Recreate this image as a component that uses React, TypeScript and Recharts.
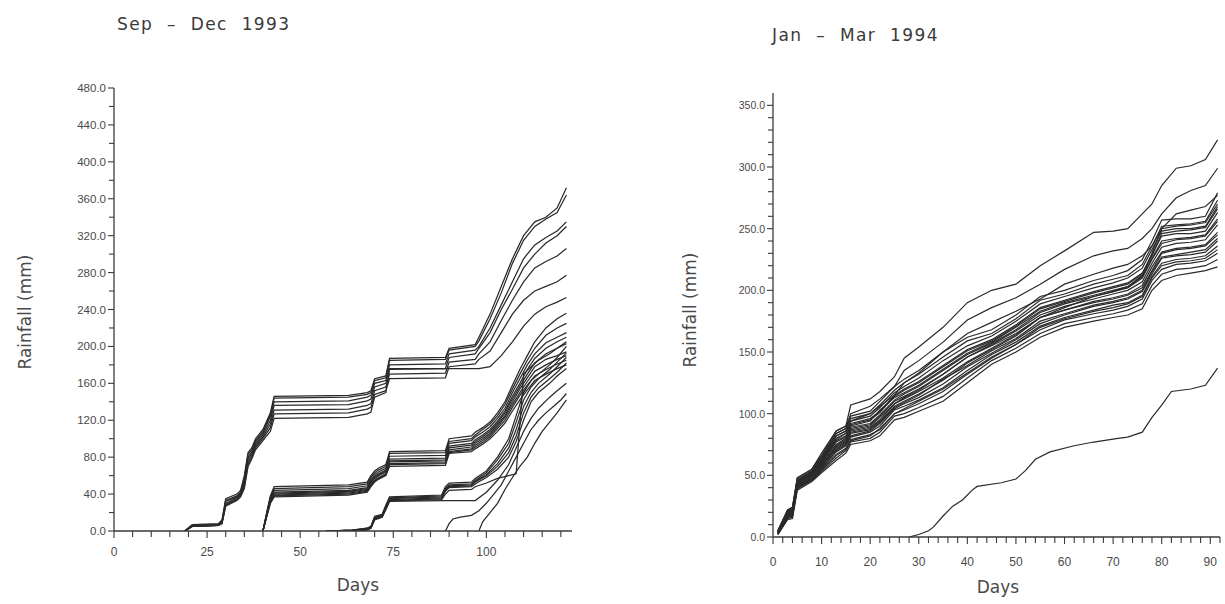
import React from 'react';
import { LineChart, Line, XAxis, YAxis } from 'recharts';

// ================= Sep – Dec 1993 =================
const SEP_X_TICKS = [0, 5, 10, 15, 20, 25, 30, 35, 40, 45, 50, 55, 60, 65, 70, 75, 80, 85, 90, 95, 100, 105, 110, 115, 120];
const SEP_X_LABELS = [0, 25, 50, 75, 100];
const SEP_Y_TICKS = [0, 20, 40, 60, 80, 100, 120, 140, 160, 180, 200, 220, 240, 260, 280, 300, 320, 340, 360, 380, 400, 420, 440, 460, 480];
const SEP_Y_LABELS = [0, 40, 80, 120, 160, 200, 240, 280, 320, 360, 400, 440, 480];

// group starting ~day 19
const SEP_A_DAYS = [19, 21, 28, 29, 30, 33, 34, 35, 36, 37, 38, 40, 42, 43, 63, 68, 69, 70, 73, 74, 89, 90, 97, 98, 101, 104, 107, 110, 113, 116, 119, 121.5];
const SEP_A = [
  [0, 7, 8, 12, 35, 40, 44, 60, 85, 90, 100, 110, 128, 146, 147, 150, 152, 165, 168, 187, 188, 198, 202, 210, 235, 265, 295, 320, 335, 340, 350, 372],
  [0, 6, 7, 10, 33, 38, 42, 58, 83, 88, 98, 108, 126, 144, 145, 148, 150, 163, 166, 185, 186, 196, 200, 206, 230, 258, 290, 315, 330, 338, 345, 364],
  [0, 6, 7, 10, 32, 37, 41, 55, 80, 86, 96, 106, 124, 140, 141, 145, 147, 160, 163, 180, 181, 192, 196, 200, 220, 245, 270, 295, 310, 318, 325, 335],
  [0, 5, 6, 9, 30, 36, 40, 52, 78, 84, 94, 104, 120, 136, 137, 141, 143, 156, 160, 175, 176, 188, 192, 198, 215, 240, 262, 285, 300, 312, 320, 330],
  [0, 5, 6, 9, 29, 35, 39, 50, 75, 82, 92, 102, 116, 131, 132, 136, 138, 152, 156, 170, 171, 183, 186, 192, 205, 228, 250, 270, 285, 292, 298, 306],
  [0, 5, 6, 8, 28, 34, 38, 48, 72, 80, 90, 100, 112, 127, 128, 132, 134, 148, 152, 165, 166, 178, 181, 186, 195, 215, 235, 250, 260, 265, 270, 277],
  [0, 5, 6, 8, 27, 33, 37, 46, 70, 78, 88, 98, 108, 122, 123, 127, 129, 145, 150, 176, 176, 176, 176, 176, 178, 190, 205, 222, 235, 243, 248, 253],
];

// group starting ~day 40
const SEP_B_DAYS = [40, 41, 42, 43, 63, 68, 69, 70, 71, 73, 74, 89, 90, 96, 97, 99, 101, 103, 105, 107, 109, 111, 113, 116, 119, 121.5];
const SEP_B = [
  [0, 20, 38, 48, 50, 53, 60, 65, 68, 72, 86, 87, 100, 103, 107, 112, 118, 128, 140, 158, 175, 190, 205, 220, 230, 236],
  [0, 19, 37, 46, 48, 51, 58, 63, 66, 70, 84, 85, 97, 100, 104, 110, 116, 125, 137, 154, 170, 185, 198, 212, 220, 225],
  [0, 18, 36, 44, 46, 49, 56, 61, 64, 68, 81, 82, 95, 98, 102, 107, 113, 122, 133, 150, 165, 180, 192, 204, 210, 215],
  [0, 18, 35, 42, 44, 47, 54, 59, 62, 66, 78, 79, 92, 95, 99, 104, 110, 119, 130, 146, 160, 175, 187, 198, 205, 210],
  [0, 17, 34, 41, 43, 46, 53, 58, 61, 65, 76, 77, 90, 93, 97, 102, 108, 117, 128, 143, 157, 170, 182, 192, 198, 203],
  [0, 17, 33, 40, 42, 45, 52, 57, 60, 64, 75, 76, 88, 91, 95, 100, 106, 115, 125, 140, 154, 166, 178, 186, 190, 194],
  [0, 16, 32, 39, 41, 44, 50, 55, 58, 62, 73, 74, 86, 89, 93, 98, 104, 113, 123, 137, 150, 162, 173, 180, 186, 190],
  [0, 16, 31, 38, 40, 43, 49, 54, 57, 61, 72, 73, 85, 88, 91, 96, 102, 111, 120, 134, 147, 158, 168, 175, 181, 185],
  [0, 15, 30, 37, 39, 42, 48, 53, 56, 60, 70, 71, 84, 86, 89, 94, 100, 108, 117, 130, 142, 153, 163, 170, 176, 180],
];

// group starting ~day 57-65
const SEP_C_DAYS = [57, 64, 68, 69, 70, 72, 73, 74, 88, 89, 90, 96, 97, 100, 103, 106, 108, 110, 112, 114, 117, 119, 121.5];
const SEP_C = [
  [0, 1, 3, 5, 16, 18, 28, 37, 39, 48, 52, 53, 57, 65, 80, 100, 125, 150, 163, 170, 180, 188, 200],
  [0, 1, 3, 5, 15, 17, 27, 36, 38, 46, 50, 51, 55, 63, 77, 95, 118, 142, 156, 165, 175, 183, 193],
  [0, 1, 2, 4, 14, 17, 26, 35, 37, 45, 49, 50, 54, 61, 73, 90, 110, 135, 150, 160, 170, 178, 188],
  [0, 1, 2, 4, 14, 16, 25, 34, 36, 44, 48, 49, 53, 60, 70, 85, 103, 128, 145, 155, 165, 172, 182],
  [0, 0, 2, 4, 13, 16, 24, 33, 35, 43, 47, 48, 51, 58, 67, 80, 97, 120, 140, 150, 160, 168, 176],
  [0, 0, 2, 3, 13, 15, 24, 33, 34, 40, 44, 45, 48, 52, 57, 60, 62, 170, 178, 185, 192, 198, 205],
  [0, 0, 1, 3, 12, 15, 23, 32, 33, 33, 33, 33, 33, 42, 55, 72, 90, 108, 122, 133, 145, 152, 160],
];

// late starters
const SEP_D1_DAYS = [89, 90, 91, 93, 96, 98, 100, 102, 104, 106, 108, 110, 112, 114, 116, 118, 120, 121.5];
const SEP_D1 = [0, 8, 13, 15, 17, 22, 30, 40, 50, 65, 80, 95, 110, 120, 128, 135, 142, 149];
const SEP_D2_DAYS = [98, 99, 101, 103, 105, 107, 109, 111, 113, 115, 117, 119, 121.5];
const SEP_D2 = [0, 10, 20, 30, 45, 58, 70, 80, 95, 108, 118, 128, 142];

// ================= Jan – Mar 1994 =================
const JAN_X_TICKS = [0, 2, 4, 6, 8, 10, 12, 14, 16, 18, 20, 22, 24, 26, 28, 30, 32, 34, 36, 38, 40, 42, 44, 46, 48, 50, 52, 54, 56, 58, 60, 62, 64, 66, 68, 70, 72, 74, 76, 78, 80, 82, 84, 86, 88, 90, 92];
const JAN_X_LABELS = [0, 10, 20, 30, 40, 50, 60, 70, 80, 90];
const JAN_Y_TICKS = [0, 10, 20, 30, 40, 50, 60, 70, 80, 90, 100, 110, 120, 130, 140, 150, 160, 170, 180, 190, 200, 210, 220, 230, 240, 250, 260, 270, 280, 290, 300, 310, 320, 330, 340, 350];
const JAN_Y_LABELS = [0, 50, 100, 150, 200, 250, 300, 350];

const JAN_DAYS = [1, 3, 4, 5, 8, 10, 13, 15, 16, 20, 22, 25, 27, 30, 35, 40, 45, 50, 55, 60, 66, 70, 73, 76, 78, 80, 83, 86, 89, 91.5];
const JAN_TOP = [
  [5, 22, 24, 48, 55, 68, 86, 90, 107, 112, 118, 130, 145, 154, 170, 190, 200, 205, 220, 232, 247, 248, 250, 262, 270, 285, 299, 301, 306, 322],
  [4, 20, 22, 46, 53, 64, 84, 88, 100, 106, 112, 122, 135, 143, 158, 176, 186, 194, 205, 217, 228, 232, 234, 242, 250, 262, 275, 281, 285, 299],
  [4, 19, 22, 45, 52, 62, 82, 86, 94, 100, 106, 115, 125, 133, 150, 165, 174, 183, 193, 205, 213, 218, 221, 228, 236, 250, 262, 265, 268, 277],
];
const JAN_BUNDLE = [
  [5, 22, 24, 48, 55, 66, 86, 90, 98, 102, 110, 122, 128, 135, 150, 162, 168, 180, 195, 200, 208, 212, 216, 225, 240, 257, 258, 258, 260, 279],
  [5, 21, 23, 47, 54, 65, 84, 88, 96, 100, 107, 119, 125, 132, 146, 159, 165, 177, 192, 197, 205, 209, 212, 221, 236, 252, 253, 254, 256, 273],
  [4, 21, 22, 46, 53, 63, 82, 86, 94, 98, 105, 117, 122, 129, 143, 155, 163, 175, 189, 195, 202, 206, 210, 218, 233, 248, 250, 250, 252, 268],
  [4, 20, 22, 45, 52, 62, 80, 84, 92, 96, 102, 115, 120, 126, 139, 152, 160, 172, 186, 192, 199, 203, 206, 214, 229, 244, 246, 246, 248, 263],
  [4, 19, 21, 44, 52, 61, 78, 82, 90, 94, 103, 113, 117, 123, 136, 149, 158, 170, 183, 190, 196, 200, 203, 211, 226, 240, 242, 243, 245, 258],
  [4, 18, 20, 44, 51, 60, 75, 80, 88, 91, 98, 110, 114, 120, 132, 146, 156, 167, 180, 187, 193, 197, 200, 207, 222, 235, 238, 239, 241, 253],
  [3, 18, 19, 43, 50, 59, 73, 78, 86, 89, 95, 108, 112, 118, 129, 142, 153, 164, 178, 184, 191, 194, 197, 204, 219, 231, 234, 235, 237, 247],
  [3, 17, 18, 42, 49, 57, 71, 76, 84, 87, 93, 105, 109, 115, 128, 139, 151, 161, 175, 181, 188, 191, 194, 200, 215, 227, 229, 231, 233, 242],
  [3, 16, 18, 41, 48, 56, 69, 74, 81, 85, 90, 103, 106, 111, 121, 135, 148, 158, 171, 178, 184, 188, 190, 196, 211, 222, 225, 226, 228, 236],
  [3, 16, 17, 40, 47, 55, 67, 72, 79, 83, 87, 100, 103, 108, 118, 132, 145, 156, 168, 176, 181, 184, 187, 193, 208, 217, 221, 222, 224, 230],
  [2, 15, 16, 39, 46, 53, 64, 70, 77, 80, 85, 98, 100, 105, 114, 129, 143, 153, 165, 173, 178, 181, 184, 189, 204, 213, 217, 218, 220, 225],
  [2, 14, 15, 38, 45, 52, 62, 68, 75, 78, 82, 95, 97, 102, 110, 125, 140, 150, 162, 170, 175, 178, 180, 185, 200, 208, 212, 214, 216, 219],
  [4, 20, 21, 45, 50, 58, 72, 77, 85, 88, 94, 106, 110, 116, 127, 141, 152, 163, 178, 186, 195, 199, 203, 212, 230, 250, 252, 253, 255, 270],
  [3, 17, 19, 42, 48, 57, 74, 79, 87, 90, 97, 108, 113, 119, 132, 146, 155, 165, 178, 184, 190, 193, 196, 202, 216, 230, 233, 234, 236, 245],
  [3, 16, 18, 41, 47, 55, 70, 75, 82, 86, 92, 104, 108, 113, 124, 138, 149, 160, 173, 180, 187, 190, 193, 199, 213, 226, 228, 229, 231, 240],
  [4, 19, 21, 44, 52, 62, 79, 84, 91, 95, 101, 114, 119, 125, 138, 151, 159, 171, 185, 191, 198, 202, 205, 213, 228, 246, 248, 249, 251, 266],
  [2, 15, 17, 40, 46, 54, 66, 71, 78, 82, 88, 100, 104, 110, 120, 133, 146, 156, 170, 177, 183, 186, 189, 195, 210, 220, 223, 224, 226, 233],
  [3, 18, 20, 43, 50, 60, 77, 81, 89, 92, 99, 111, 116, 122, 135, 148, 157, 168, 182, 189, 195, 199, 202, 210, 225, 238, 241, 242, 244, 256],
];
const JAN_LATE_DAYS = [28, 30, 32, 33, 35, 37, 39, 41, 42, 47, 50, 52, 54, 57, 62, 66, 71, 73, 76, 78, 80, 82, 86, 89, 91.5];
const JAN_LATE = [0, 2, 5, 8, 17, 25, 30, 38, 41, 44, 47, 54, 63, 69, 74, 77, 80, 81, 85, 97, 107, 118, 120, 123, 137];

// ---------- helpers ----------
type Pt = { day: number; v: number };
const toSeries = (days: number[], vals: number[]): Pt[] => days.map((d, i) => ({ day: d, v: vals[i] }));

const SEP_SERIES: Pt[][] = [
  ...SEP_A.map((vals) => toSeries(SEP_A_DAYS, vals)),
  ...SEP_B.map((vals) => toSeries(SEP_B_DAYS, vals)),
  ...SEP_C.map((vals) => toSeries(SEP_C_DAYS, vals)),
  toSeries(SEP_D1_DAYS, SEP_D1),
  toSeries(SEP_D2_DAYS, SEP_D2),
];
const JAN_SERIES: Pt[][] = [
  ...JAN_TOP.map((vals) => toSeries(JAN_DAYS, vals)),
  ...JAN_BUNDLE.map((vals) => toSeries(JAN_DAYS, vals)),
  toSeries(JAN_LATE_DAYS, JAN_LATE),
];

const AXIS_COLOR = '#3a3a3a';
const TEXT_COLOR = '#4a4a4a';
const LINE_COLOR = '#2a2a2a';
const TICK_FONT = '"Liberation Sans", Arial, sans-serif';

const makeYTick = (labels: number[], fontSize: number) => (props: any) => {
  const { x, y, payload } = props;
  const major = labels.includes(payload.value);
  return (
    <g>
      <line x1={x - (major ? 6 : 5)} x2={x} y1={y} y2={y} stroke={AXIS_COLOR} strokeWidth={1.1} />
      {major && (
        <text x={x - 8} y={y} textAnchor="end" dominantBaseline="central" fontSize={fontSize} fill={TEXT_COLOR} fontFamily={TICK_FONT}>
          {Number(payload.value).toFixed(1)}
        </text>
      )}
    </g>
  );
};

const makeXTick = (labels: number[], fontSize: number, labelDy: number) => (props: any) => {
  const { x, y, payload } = props;
  const major = labels.includes(payload.value);
  return (
    <g>
      <line x1={x} x2={x} y1={y} y2={y + (major ? 7 : 6)} stroke={AXIS_COLOR} strokeWidth={1.1} />
      {major && (
        <text x={x} y={y + labelDy} textAnchor="middle" dominantBaseline="central" fontSize={fontSize} fill={TEXT_COLOR} fontFamily={TICK_FONT}>
          {payload.value}
        </text>
      )}
    </g>
  );
};

const labelStyle: React.CSSProperties = {
  position: 'absolute',
  color: '#4a4a4a',
  fontFamily: '"DejaVu Sans", "Liberation Sans", sans-serif',
  whiteSpace: 'nowrap',
  lineHeight: 1,
};

export default function App() {
  return (
    <div style={{ position: 'absolute', left: 0, top: 0, width: 1225, height: 604, background: '#ffffff', overflow: 'hidden' }}>
      {/* Titles */}
      <div style={{ ...labelStyle, left: 117, top: 16, fontSize: 17, letterSpacing: 1.4, wordSpacing: 7, color: '#3a3a3a' }}>Sep – Dec 1993</div>
      <div style={{ ...labelStyle, left: 772, top: 27, fontSize: 17, letterSpacing: 1.4, wordSpacing: 7, color: '#3a3a3a' }}>Jan – Mar 1994</div>

      {/* Y axis titles */}
      <div style={{ ...labelStyle, left: 25, top: 312, fontSize: 17, transform: 'translate(-50%, -50%) rotate(-90deg)' }}>Rainfall (mm)</div>
      <div style={{ ...labelStyle, left: 690, top: 310, fontSize: 17, transform: 'translate(-50%, -50%) rotate(-90deg)' }}>Rainfall (mm)</div>

      {/* X axis titles */}
      <div style={{ ...labelStyle, left: 358, top: 585, fontSize: 17, transform: 'translate(-50%, -50%)' }}>Days</div>
      <div style={{ ...labelStyle, left: 998, top: 587, fontSize: 17, transform: 'translate(-50%, -50%)' }}>Days</div>

      {/* Left chart */}
      <div style={{ position: 'absolute', left: 0, top: 0 }}>
        <LineChart width={612} height={604} margin={{ top: 88, right: 40, bottom: 43, left: 54 }}>
          <XAxis
            type="number"
            dataKey="day"
            domain={[0, 123]}
            ticks={SEP_X_TICKS}
            interval={0}
            height={30}
            tickSize={0}
            tickMargin={0}
            tickLine={false}
            axisLine={{ stroke: AXIS_COLOR, strokeWidth: 1.3 }}
            tick={makeXTick(SEP_X_LABELS, 12, 21)}
            allowDataOverflow
          />
          <YAxis
            type="number"
            domain={[0, 480]}
            ticks={SEP_Y_TICKS}
            interval={0}
            width={60}
            tickSize={0}
            tickMargin={0}
            tickLine={false}
            axisLine={{ stroke: AXIS_COLOR, strokeWidth: 1.3 }}
            tick={makeYTick(SEP_Y_LABELS, 11.5)}
            allowDataOverflow
          />
          {SEP_SERIES.map((s, i) => (
            <Line
              key={'sep' + i}
              data={s}
              dataKey="v"
              type="linear"
              dot={false}
              activeDot={false}
              stroke={LINE_COLOR}
              strokeWidth={1.25}
              isAnimationActive={false}
            />
          ))}
        </LineChart>
      </div>

      {/* Right chart */}
      <div style={{ position: 'absolute', left: 620, top: 0 }}>
        <LineChart width={605} height={604} margin={{ top: 93, right: 5, bottom: 37, left: 93 }}>
          <XAxis
            type="number"
            dataKey="day"
            domain={[0, 92]}
            ticks={JAN_X_TICKS}
            interval={0}
            height={30}
            tickSize={0}
            tickMargin={0}
            tickLine={false}
            axisLine={{ stroke: AXIS_COLOR, strokeWidth: 1.3 }}
            tick={makeXTick(JAN_X_LABELS, 12, 25)}
            allowDataOverflow
          />
          <YAxis
            type="number"
            domain={[0, 360]}
            ticks={JAN_Y_TICKS}
            interval={0}
            width={60}
            tickSize={0}
            tickMargin={0}
            tickLine={false}
            axisLine={{ stroke: AXIS_COLOR, strokeWidth: 1.3 }}
            tick={makeYTick(JAN_Y_LABELS, 10.5)}
            allowDataOverflow
          />
          {JAN_SERIES.map((s, i) => (
            <Line
              key={'jan' + i}
              data={s}
              dataKey="v"
              type="linear"
              dot={false}
              activeDot={false}
              stroke={LINE_COLOR}
              strokeWidth={1.2}
              isAnimationActive={false}
            />
          ))}
        </LineChart>
      </div>
    </div>
  );
}
